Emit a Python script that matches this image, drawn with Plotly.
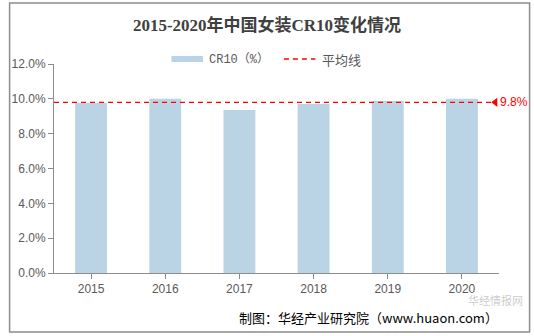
import plotly.graph_objects as go

years = ["2015", "2016", "2017", "2018", "2019", "2020"]
cr10 = [9.78, 10.0, 9.36, 9.71, 9.87, 10.0]
avg = 9.8
y_ticks = [0, 2, 4, 6, 8, 10, 12]
y_tick_labels = ["0.0%", "2.0%", "4.0%", "6.0%", "8.0%", "10.0%", "12.0%"]
series_names = ["CR10（%）", "平均线"]

W, H = 534, 336
L, R, T, B = 48, 35, 64, 63
pw, ph = W - L - R, H - T - B

def px(x):
    return (x - L) / pw

def py(y):
    return (H - B - y) / ph

bar_color = "#BBD4E5"
line_color = "#FF0000"

fig = go.Figure()
fig.add_trace(go.Bar(
    x=list(range(len(years))), y=cr10, name=series_names[0], showlegend=False,
    marker=dict(color=bar_color, line=dict(width=0)), width=0.43,
))
fig.add_trace(go.Scatter(
    x=[-0.5, 5.4], y=[avg, avg], name=series_names[1], mode="lines", showlegend=False,
    line=dict(color=line_color, width=1.3, dash="5px,4px"),
    cliponaxis=False,
))
fig.add_trace(go.Scatter(
    x=[5.45], y=[avg], mode="markers", showlegend=False,
    marker=dict(symbol="triangle-left", size=8, color=line_color),
    cliponaxis=False,
))
fig.add_annotation(x=5.48, y=avg, xref="x", yref="y", text=f"{avg:.1f}%",
                   showarrow=False, xanchor="left", yanchor="middle",
                   font=dict(family="Liberation Sans, Arial", size=12, color=line_color))

# legend (manual, to match wide swatches)
fig.add_shape(type="rect", xref="paper", yref="paper",
              x0=px(167), x1=px(199), y0=py(62), y1=py(56),
              fillcolor=bar_color, line=dict(width=0))
fig.add_annotation(x=px(203), y=py(59), xref="paper", yref="paper", text=series_names[0],
                   showarrow=False, xanchor="left", yanchor="middle",
                   font=dict(family="Liberation Mono, Noto Sans CJK SC", size=12, color="#595959"))
fig.add_shape(type="line", xref="paper", yref="paper",
              x0=px(281), x1=px(313), y0=py(59), y1=py(59),
              line=dict(color=line_color, width=1.3, dash="5px,4px"))
fig.add_annotation(x=px(318), y=py(59), xref="paper", yref="paper", text=series_names[1],
                   showarrow=False, xanchor="left", yanchor="middle",
                   font=dict(family="Noto Sans CJK SC", size=13, color="#595959"))

# outer border
fig.add_shape(type="rect", xref="paper", yref="paper",
              x0=px(3), x1=px(530), y0=py(332), y1=py(3),
              line=dict(color="#8C8C8C", width=1.5))

# watermark
fig.add_annotation(x=px(524), y=py(300), xref="paper", yref="paper", text="华经情报网",
                   showarrow=False, xanchor="right", yanchor="middle", borderpad=0,
                   font=dict(family="Noto Sans CJK SC", size=11, color="rgba(150,150,150,0.5)"))
# source
fig.add_annotation(x=px(500), y=py(317), xref="paper", yref="paper",
                   text="制图：华经产业研究院（www.huaon.com）",
                   showarrow=False, xanchor="right", yanchor="middle",
                   font=dict(family="Noto Sans CJK SC", size=13, color="#000000"))

fig.update_layout(
    width=W, height=H,
    margin=dict(l=L, r=R, t=T, b=B),
    paper_bgcolor="white", plot_bgcolor="white",
    title=dict(text="<b>2015-2020年中国女装CR10变化情况</b>", x=0.5, xanchor="center",
               y=1 - 25 / H, yanchor="middle",
               font=dict(family="Liberation Serif, Noto Sans CJK SC", size=17, color="#404040")),
    showlegend=False,
)
fig.update_xaxes(
    range=[-0.5, 5.5], tickvals=list(range(len(years))), ticktext=years,
    showline=True, linecolor="#8C8C8C", linewidth=1,
    ticks="outside", ticklen=5, tickcolor="#8C8C8C", tickson="boundaries",
    showgrid=False, zeroline=False,
    tickfont=dict(family="Liberation Sans, Arial", size=12, color="#595959"),
)
fig.update_yaxes(
    range=[0, 12], tickvals=y_ticks, ticktext=y_tick_labels,
    showline=True, linecolor="#8C8C8C", linewidth=1,
    ticks="outside", ticklen=5, tickcolor="#8C8C8C",
    showgrid=False, zeroline=False,
    tickfont=dict(family="Liberation Sans, Arial", size=12, color="#595959"),
)
fig.write_html("out.html")
